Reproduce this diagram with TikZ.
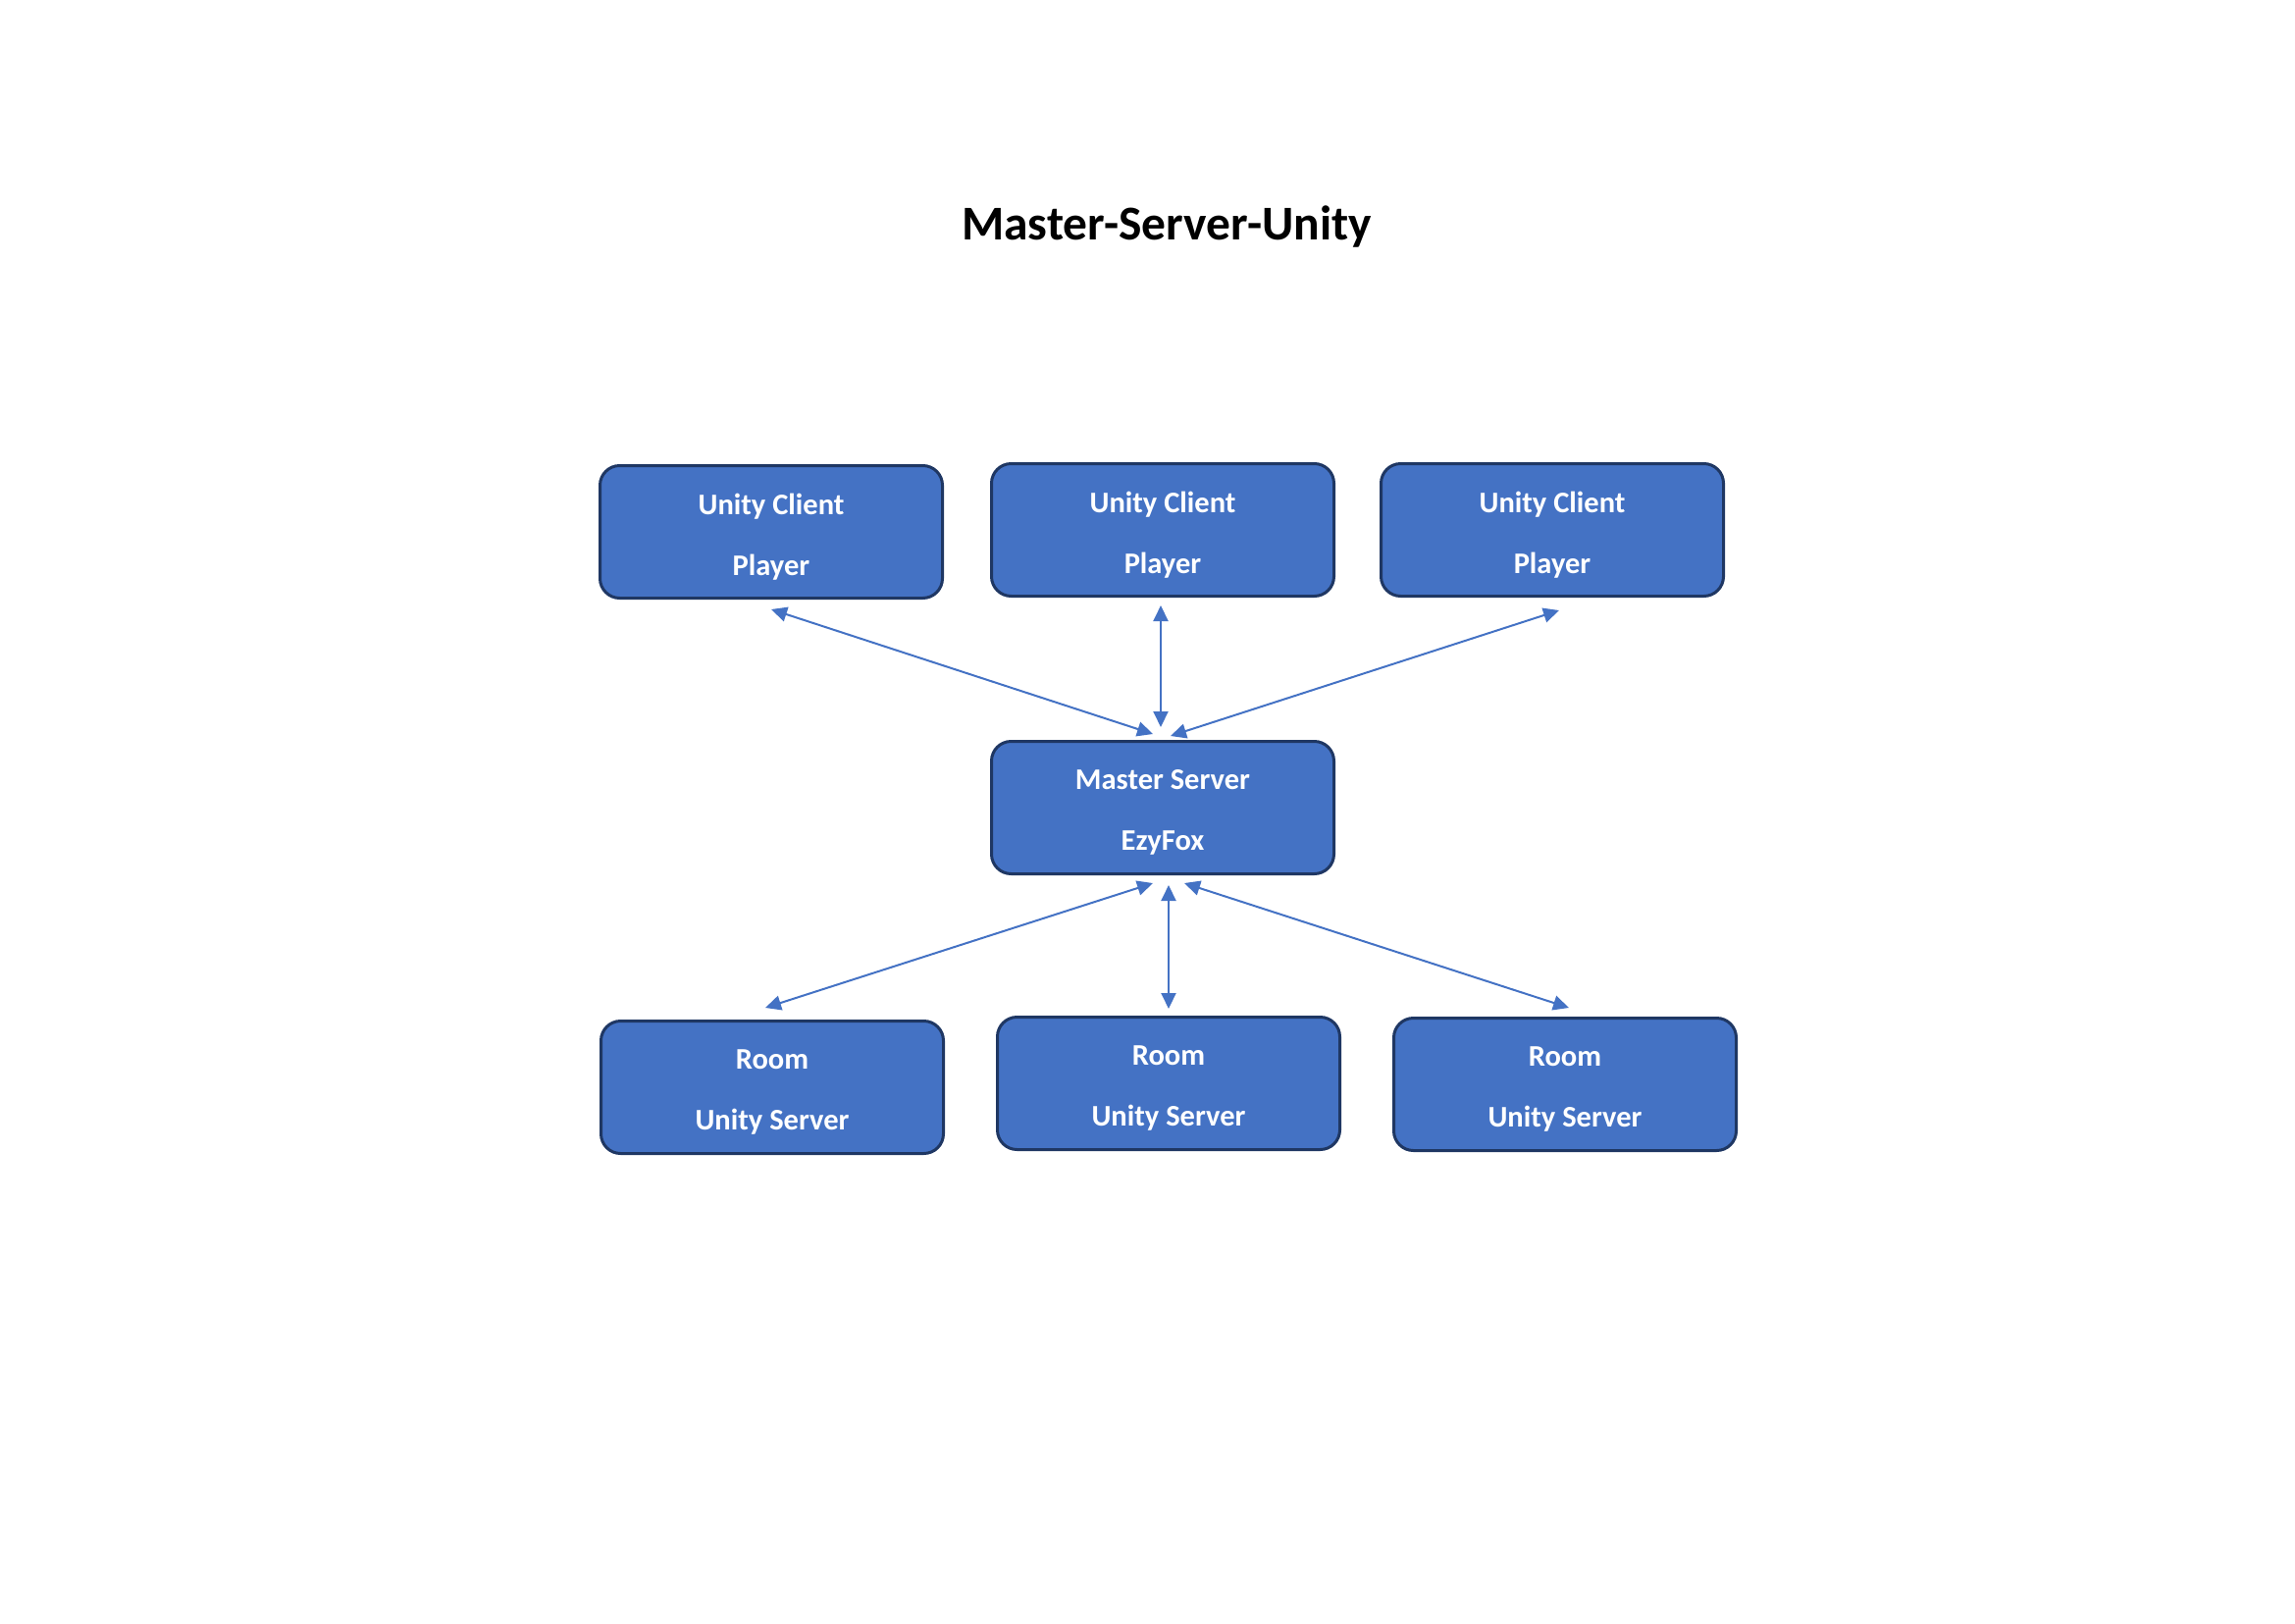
\documentclass[tikz,border=0pt]{standalone}
\usepackage{fontspec}
\setmainfont{Carlito}
\usetikzlibrary{arrows.meta}
\definecolor{boxfill}{HTML}{4472C4}
\definecolor{boxline}{HTML}{1F3763}
\definecolor{arrowc}{HTML}{4472C4}
\tikzset{
  box/.style={draw=boxline, line width=3pt, fill=boxfill, rounded corners=20pt,
    minimum width=349pt, minimum height=135pt, inner sep=0pt},
  boxtxt/.style={text=white, align=center, yshift=-5pt, inner sep=0pt,
    font=\bfseries\fontsize{30.5}{62}\selectfont},
  conn/.style={draw=arrowc, line width=2pt,
    {Triangle[length=16pt,width=15pt]}-{Triangle[length=16pt,width=15pt]}}
}
\begin{document}
\begin{tikzpicture}[x=1pt,y=-1pt]
\useasboundingbox (0,0) rectangle (2339,1654);
\node[font=\bfseries\fontsize{49.5}{58}\selectfont] (title) at (1189,231) {Master-Server-Unity};
\node[box, label={[boxtxt]center:Unity Client\\Player}] (tl) at (786,542) {};
\node[box, label={[boxtxt]center:Unity Client\\Player}] (tm) at (1185,540) {};
\node[box, label={[boxtxt]center:Unity Client\\Player}] (tr) at (1582,540) {};
\node[box, label={[boxtxt]center:Master Server\\EzyFox}] (ms) at (1185,823) {};
\node[box, label={[boxtxt]center:Room\\Unity Server}] (bl) at (787,1108) {};
\node[box, label={[boxtxt]center:Room\\Unity Server}] (bm) at (1191,1104) {};
\node[box, label={[boxtxt]center:Room\\Unity Server}] (br) at (1595,1105) {};
\draw[conn] ([yshift=-10pt]tl.south) -- ([xshift=-10pt,yshift=6pt]ms.north);
\draw[conn] ([xshift=-2pt,yshift=-8pt]tm.south) -- ([xshift=-2pt,yshift=13pt]ms.north);
\draw[conn] ([xshift=7pt,yshift=-13pt]tr.south) -- ([xshift=8pt,yshift=4pt]ms.north);
\draw[conn] ([xshift=-10pt,yshift=-8pt]ms.south) -- ([xshift=-7pt,yshift=12pt]bl.north);
\draw[conn] ([xshift=6pt,yshift=-10pt]ms.south) -- ([yshift=7pt]bm.north);
\draw[conn] ([xshift=22pt,yshift=-8pt]ms.south) -- ([xshift=4pt,yshift=9pt]br.north);
\end{tikzpicture}
\end{document}
